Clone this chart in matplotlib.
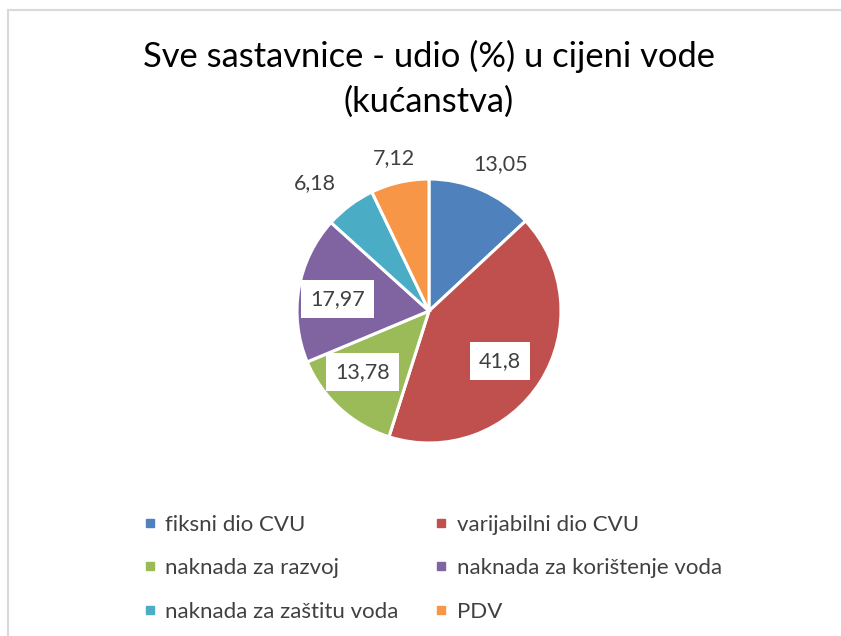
import numpy as np
import matplotlib
matplotlib.use('Agg')
import matplotlib.pyplot as plt
from matplotlib.lines import Line2D
from matplotlib.patches import Rectangle

plt.rcParams['font.family'] = ['Lato', 'DejaVu Sans']

# podaci
kategorije = ['fiksni dio CVU', 'varijabilni dio CVU', 'naknada za razvoj',
              'naknada za korištenje voda', 'naknada za zaštitu voda', 'PDV']
udjeli = [13.05, 41.8, 13.78, 17.97, 6.18, 7.12]
boje = ['#4F81BD', '#C0504D', '#9BBB59', '#8064A2', '#4BACC6', '#F79646']
naslov = 'Sve sastavnice - udio (%) u cijeni vode\n(kućanstva)'

# položaj oznake: (radijalni faktor, kutni pomak u stupnjevima), unutra = bijela pozadina
pol_oznake = [(1.24, -2.5), (0.66, -3), (0.68, -5), (0.70, 2), (1.30, 5), (1.19, 0)]
unutra = [False, True, True, True, False, False]

fig = plt.figure(figsize=(8.41, 6.36), dpi=100)
fig.patches.append(Rectangle((8 / 841, -0.1), 1.2, (636 - 10) / 636 + 0.1,
                             transform=fig.transFigure, fill=False,
                             edgecolor='#d9d9d9', linewidth=1.5))

ax = fig.add_axes([(429 - 132) / 841, (636 - 311 - 132) / 636, 264 / 841, 264 / 636])
wedges, _ = ax.pie(udjeli, colors=boje, startangle=90, counterclock=False,
                   radius=1.0, wedgeprops=dict(edgecolor='white', linewidth=2.2))
ax.set_xlim(-1, 1)
ax.set_ylim(-1, 1)
ax.set_aspect('equal')
ax.axis('off')

for w, v, (r, pomak), u in zip(wedges, udjeli, pol_oznake, unutra):
    kut = np.deg2rad((w.theta1 + w.theta2) / 2 + pomak)
    x, y = r * np.cos(kut), r * np.sin(kut)
    tekst = ('%g' % v).replace('.', ',')
    kw = {}
    if u:
        kw['bbox'] = dict(boxstyle='square,pad=0.42', facecolor='white', edgecolor='none')
    ax.text(x, y, tekst, ha='center', va='center', fontsize=15.5,
            color='#404040', clip_on=False, **kw)

fig.text(429 / 841, 1 - 79 / 636, naslov, ha='center', va='center',
         fontsize=24.8, color='#000000', linespacing=1.5)

redoslijed = [0, 2, 4, 1, 3, 5]
ruckice = [Line2D([], [], marker='s', ls='', color=boje[i], markersize=6) for i in redoslijed]
fig.legend(ruckice, [kategorije[i] for i in redoslijed], ncol=2,
           loc='upper left', bbox_to_anchor=(134 / 841, 1 - 506 / 636),
           frameon=False, fontsize=16, handlelength=0.6, handletextpad=0.4,
           columnspacing=1.62, labelspacing=1.05, labelcolor='#404040',
           borderaxespad=0)

fig.savefig('out.png', dpi=100)
